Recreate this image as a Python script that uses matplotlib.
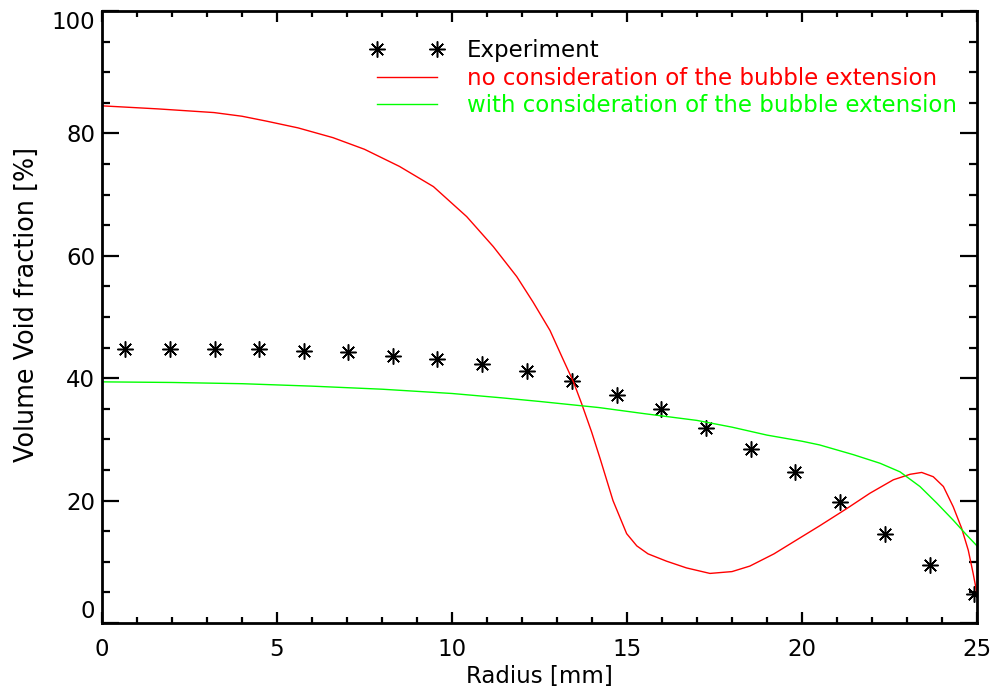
import matplotlib
matplotlib.use("Agg")
import matplotlib.pyplot as plt
from matplotlib.ticker import MultipleLocator

plt.rcParams['font.family'] = ['DejaVu Sans']

# Measured void fraction
exp_r = [0.66, 1.94, 3.23, 4.49, 5.77, 7.03, 8.31, 9.57, 10.86, 12.14,
         13.43, 14.71, 15.97, 17.26, 18.54, 19.80, 21.09, 22.37, 23.66, 24.91]
exp_void = [44.8, 44.8, 44.7, 44.7, 44.5, 44.2, 43.7, 43.2, 42.4, 41.2,
            39.6, 37.2, 34.9, 31.9, 28.4, 24.7, 19.8, 14.6, 9.4, 4.7]

# Model without bubble extension
no_ext_r = [0.0, 1.6, 3.2, 4.0, 4.7, 5.6, 6.6, 7.5, 8.5, 9.47, 10.42, 11.18,
            11.85, 12.32, 12.8, 13.18, 13.47, 13.7, 13.99, 14.23, 14.6, 14.99,
            15.28, 15.6, 16.13, 16.7, 17.37, 18.0, 18.51, 19.2, 19.94, 20.51,
            21.28, 21.94, 22.61, 23.09, 23.42, 23.75, 24.04, 24.32, 24.56,
            24.75, 24.89, 24.99]
no_ext_void = [84.5, 84.0, 83.4, 82.8, 82.0, 80.9, 79.3, 77.4, 74.6, 71.3,
               66.4, 61.5, 56.6, 52.4, 47.8, 43.0, 39.4, 35.9, 31.2, 26.9, 20.0,
               14.6, 12.6, 11.3, 10.1, 9.0, 8.1, 8.4, 9.3, 11.3, 13.9, 15.9,
               18.7, 21.2, 23.4, 24.3, 24.6, 23.9, 22.3, 19.0, 15.5, 11.9, 8.1,
               5.1]

# Model with bubble extension
ext_r = [0.0, 2.0, 4.0, 6.0, 8.0, 10.0, 11.4, 12.5, 14.2, 15.5, 17.0, 18.0,
         19.0, 20.0, 20.5, 21.47, 22.23, 22.8, 23.37, 23.85, 24.32, 24.7, 25.0]
ext_void = [39.4, 39.3, 39.1, 38.7, 38.2, 37.5, 36.8, 36.2, 35.2, 34.2, 33.1,
            32.0, 30.7, 29.7, 29.1, 27.5, 26.1, 24.7, 22.3, 19.6, 16.8, 14.4,
            12.6]

x_major = [0, 5, 10, 15, 20, 25]
y_major = [0, 20, 40, 60, 80, 100]

FS = 16.5

fig = plt.figure(figsize=(9.94, 6.9), dpi=100)
ax = fig.add_axes([0.1026, 0.0971, 0.8803, 0.8870])

ax.plot(exp_r, exp_void, linestyle='none', marker=(8, 2, 0), markersize=11.5,
        markeredgewidth=1.1, color='black', label='Experiment')
ax.plot(no_ext_r, no_ext_void, color='#ff0000', linewidth=1.0,
        label='no consideration of the bubble extension')
ax.plot(ext_r, ext_void, color='#00ff00', linewidth=1.0,
        label='with consideration of the bubble extension')

ax.set_xlim(0, 25)
ax.set_ylim(0, 100)
ax.set_xticks(x_major)
ax.set_yticks(y_major)
ax.xaxis.set_minor_locator(MultipleLocator(1))
ax.yaxis.set_minor_locator(MultipleLocator(5))

for s in ax.spines.values():
    s.set_linewidth(2.0)

ax.tick_params(axis='x', which='major', direction='in', length=8, width=1.6,
               top=True, labelsize=FS, pad=11)
ax.tick_params(axis='x', which='minor', direction='in', length=4.3, width=1.6,
               top=True)
ax.tick_params(axis='y', which='major', direction='in', length=12, width=1.6,
               right=True, labelsize=FS, pad=5)
ax.tick_params(axis='y', which='minor', direction='in', length=6, width=1.6,
               right=True)

# keep the end labels of the y axis inside the axis range
ylabels = ax.get_yticklabels()
ylabels[0].set_verticalalignment('bottom')
ylabels[-1].set_verticalalignment('top')

ax.set_xlabel('Radius [mm]', fontsize=FS, labelpad=3)
ax.set_ylabel('Volume Void fraction [%]', fontsize=18.4)
ax.yaxis.set_label_coords(-0.071, 0.52)

ax.legend(loc='upper left', bbox_to_anchor=(0.307, 0.954), frameon=False,
          numpoints=2, handlelength=3.2, handletextpad=1.0, labelspacing=0.2,
          borderpad=0, borderaxespad=0, fontsize=FS, labelcolor='linecolor')

fig.savefig('out.png', dpi=100)
